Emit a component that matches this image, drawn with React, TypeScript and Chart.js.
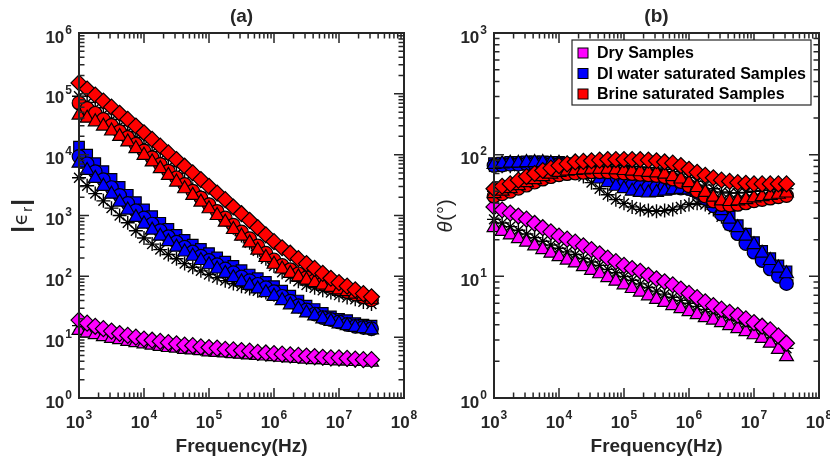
import React, { useEffect, useRef } from "react";
import { Chart, registerables } from "chart.js";
Chart.register(...registerables);

// ---------- data ----------
const freq = [
  1000, 1334, 1778, 2371, 3162, 4217, 5623, 7499,
  10000, 13340, 17780, 23710, 31620, 42170, 56230, 74990,
  100000, 133400, 177800, 237100, 316200, 421700, 562300, 749900,
  1000000, 1334000, 1778000, 2371000, 3162000, 4217000, 5623000, 7499000,
  10000000, 13340000, 17780000, 23710000, 31620000,
];

// panel (a): |eps_r|
const aRedDiamond = [151000, 120000, 95500, 75900, 60300, 47900, 38000, 29500, 22900, 17800, 13800, 10700, 8300, 6460, 5010, 3890, 3020, 2340, 1820, 1380, 1070, 832, 631, 479, 372, 295, 240, 195, 162, 135, 112, 93, 79, 69, 60, 52, 46];
const aRedCircle = [70800, 57500, 47900, 38000, 30200, 24000, 19100, 14800, 11500, 8910, 6920, 5370, 4170, 3240, 2510, 1950, 1510, 1170, 912, 692, 537, 417, 316, 240, 186, 151, 129, 110, 95, 85, 76, 68, 62, 56, 51, 46, 41];
const aRedTriangle = [44700, 39800, 34700, 29500, 24500, 20000, 16200, 12600, 9770, 7590, 5890, 4570, 3550, 2750, 2140, 1660, 1290, 1000, 776, 589, 457, 355, 269, 204, 158, 132, 112, 98, 87, 79, 72, 66, 60, 56, 51, 47, 42];
const aRedStar = [91200, 72400, 58900, 46800, 38000, 30200, 24000, 19100, 14500, 11200, 8510, 6460, 4900, 3630, 2690, 2040, 1510, 1120, 851, 631, 468, 355, 263, 195, 148, 117, 98, 83, 72, 65, 59, 54, 49, 45, 42, 38, 35];
const aBlueSquare = [13500, 10000, 7240, 5370, 3980, 2950, 2190, 1660, 1260, 977, 759, 603, 479, 398, 331, 282, 240, 204, 174, 148, 126, 107, 93, 81, 69, 58, 48, 40, 33, 29, 25, 22, 20, 19, 17, 16, 15.5];
const aBlueCircle = [9330, 7080, 5250, 3890, 2880, 2140, 1580, 1200, 912, 724, 562, 447, 363, 302, 251, 214, 182, 155, 132, 115, 98, 85, 74, 65, 56, 47, 39, 33, 28, 24, 21, 19.5, 17.8, 16.2, 15.1, 14.5, 13.8];
const aBlueTriangle = [7240, 5500, 4070, 3020, 2240, 1660, 1230, 933, 724, 575, 457, 372, 302, 251, 214, 182, 155, 132, 112, 95, 81, 71, 62, 54, 47, 40, 34, 29, 25, 22.4, 20, 18.2, 16.6, 15.5, 14.5, 13.8, 13.2];
const aBlueStar = [4170, 3090, 2290, 1740, 1320, 1000, 759, 562, 427, 339, 275, 229, 195, 162, 141, 123, 107, 95, 85, 76, 69, 63, 58, 54, 50, 44, 38, 32, 28, 24.5, 21.9, 19.5, 17.8, 16.2, 15.1, 14.1, 13.5];
const aMagDiamond = [19.1, 17.0, 15.1, 13.8, 12.6, 11.5, 10.7, 10.0, 9.33, 8.91, 8.51, 8.13, 7.76, 7.41, 7.24, 6.92, 6.76, 6.61, 6.31, 6.17, 6.03, 5.89, 5.62, 5.5, 5.37, 5.25, 5.13, 5.01, 4.9, 4.79, 4.68, 4.57, 4.57, 4.47, 4.37, 4.27, 4.27];
const aMagTriangle = [12.9, 11.7, 11.0, 10.2, 9.55, 9.12, 8.51, 8.13, 7.76, 7.41, 7.08, 6.76, 6.61, 6.31, 6.17, 6.03, 5.75, 5.62, 5.5, 5.37, 5.25, 5.13, 5.01, 4.9, 4.79, 4.68, 4.57, 4.47, 4.37, 4.27, 4.27, 4.17, 4.07, 4.07, 3.98, 3.98, 3.89];
const aMagStar = [15.5, 14.1, 12.9, 11.8, 11.0, 10.2, 9.5, 9.0, 8.5, 8.1, 7.8, 7.4, 7.2, 6.8, 6.7, 6.5, 6.2, 6.1, 5.9, 5.8, 5.6, 5.5, 5.3, 5.2, 5.1, 4.95, 4.85, 4.75, 4.6, 4.5, 4.45, 4.35, 4.3, 4.25, 4.15, 4.1, 4.05];

// panel (b): theta (deg)
const bMagDiamond = [37.2, 35.1, 33.1, 31.3, 29.5, 27.2, 25.1, 23.2, 21.4, 20.2, 19.1, 17.8, 16.6, 15.3, 14.1, 13.2, 12.3, 11.6, 11.0, 10.2, 9.55, 9.02, 8.51, 7.85, 7.24, 6.68, 6.17, 5.75, 5.37, 5.07, 4.79, 4.47, 4.17, 3.89, 3.63, 3.24, 2.82];
const bMagTriangle = [25.1, 23.4, 21.9, 20.4, 19.1, 17.8, 16.6, 15.5, 14.5, 13.6, 12.9, 12.0, 11.2, 10.5, 9.77, 9.12, 8.51, 7.94, 7.41, 6.92, 6.46, 6.1, 5.75, 5.43, 5.13, 4.84, 4.57, 4.37, 4.17, 3.94, 3.72, 3.51, 3.31, 3.09, 2.82, 2.51, 2.19];
const bMagStar = [29.4, 27.4, 25.6, 23.9, 22.3, 20.8, 19.4, 18.1, 17.0, 15.9, 15.1, 14.0, 13.1, 12.3, 11.4, 10.7, 9.96, 9.29, 8.67, 8.1, 7.56, 7.14, 6.73, 6.35, 6.0, 5.66, 5.35, 5.11, 4.88, 4.61, 4.35, 4.11, 3.87, 3.62, 3.3, 2.94, 2.56];
const bBlueSquare = [85.1, 86.1, 87.1, 87.1, 88.1, 88.1, 88.1, 87.1, 87.1, 85.1, 83.2, 79.4, 75.9, 70.8, 66.1, 61.7, 58.9, 56.9, 55.6, 55.0, 54.3, 54.3, 54.3, 54.3, 53.7, 50.1, 45.7, 40.7, 36.3, 30.9, 26.3, 22.4, 19.1, 16.2, 14.1, 12.3, 11.0];
const bBlueTriangle = [83.2, 84.1, 85.1, 85.1, 86.1, 86.1, 86.1, 85.1, 85.1, 83.2, 79.4, 74.1, 69.2, 63.1, 58.9, 55.0, 52.5, 50.1, 49.0, 48.4, 49.0, 50.1, 51.3, 51.9, 51.3, 49.0, 44.7, 39.8, 34.7, 29.5, 25.1, 21.4, 18.2, 15.5, 13.5, 11.7, 10.5];
const bBlueCircle = [81.3, 82.2, 83.2, 83.2, 84.1, 84.1, 84.1, 83.2, 83.2, 81.3, 79.4, 75.9, 72.4, 67.6, 63.1, 60.3, 57.5, 55.6, 54.3, 53.7, 53.7, 53.7, 53.7, 53.1, 52.5, 49.0, 43.7, 38.0, 32.4, 26.9, 22.4, 18.6, 15.8, 13.5, 11.5, 10.0, 8.71];
const bBlueStar = [79.4, 80.4, 80.4, 81.3, 81.3, 81.3, 81.3, 81.3, 81.3, 79.4, 74.1, 66.1, 58.9, 52.5, 46.8, 42.7, 39.8, 37.2, 35.5, 34.7, 34.3, 34.7, 35.5, 37.2, 38.9, 39.8, 38.9, 35.5, 30.9, 26.3, 22.4, 19.1, 16.2, 13.8, 12.0, 10.5, 9.33];
const bRedDiamond = [52.5, 55.0, 57.5, 61.7, 66.1, 70.0, 74.1, 77.6, 81.3, 84.1, 87.1, 88.1, 89.1, 90.2, 91.2, 91.2, 91.2, 91.2, 91.2, 90.2, 89.1, 87.1, 85.1, 81.3, 75.9, 71.6, 67.6, 64.6, 61.7, 60.3, 58.9, 58.2, 57.5, 57.5, 57.5, 57.5, 57.5];
const bRedTriangle = [47.9, 50.1, 52.5, 55.6, 58.9, 62.4, 66.1, 69.2, 71.6, 73.3, 74.1, 75.0, 75.9, 75.9, 75.9, 75.0, 74.1, 73.3, 72.4, 71.6, 70.8, 69.2, 66.1, 63.1, 58.9, 53.7, 49.0, 44.7, 41.7, 41.2, 41.7, 42.7, 44.2, 45.2, 46.2, 47.3, 48.4];
const bRedCircle = [45.6, 47.7, 50.0, 52.9, 56.1, 59.4, 62.9, 65.9, 68.2, 69.8, 70.6, 71.4, 72.3, 72.3, 72.3, 71.4, 70.6, 69.8, 68.9, 68.2, 67.4, 65.9, 62.9, 60.1, 55.5, 50.3, 45.6, 41.6, 38.9, 38.5, 39.0, 40.1, 41.7, 42.8, 43.9, 45.0, 46.1];
const bRedStar = [50.1, 52.5, 55.0, 58.5, 62.4, 66.1, 70.0, 73.3, 76.2, 78.5, 80.4, 81.3, 82.2, 82.2, 83.2, 82.2, 81.3, 80.4, 79.4, 78.5, 77.6, 75.9, 72.4, 69.2, 65.0, 60.3, 56.2, 52.5, 49.4, 48.4, 48.4, 49.0, 50.1, 50.7, 51.3, 51.9, 52.5];

const legendLabels = ["Dry Samples", "DI water saturated Samples", "Brine saturated Samples"];

// ---------- style ----------
const MAG = "#FF00FF";
const BLU = "#0000FF";
const RED = "#FF0000";
const INK = "#262626";
const FONT = '"Liberation Sans", Arial, Helvetica, sans-serif';

function series(values: number[], style: string, color: string, radius: number) {
  const star = style === "star";
  return {
    data: freq.map((f, i) => ({ x: f, y: values[i] })),
    pointStyle: style,
    pointRadius: radius,
    pointBackgroundColor: star ? "#000" : color,
    pointBorderColor: "#000",
    pointBorderWidth: star ? 1.4 : 1.2,
    showLine: false,
    clip: false as any,
  };
}

function groupSets(d: number[] | null, t: number[], c: number[] | null, sq: number[] | null, s: number[], color: string) {
  const out: any[] = [];
  if (d) out.push(series(d, "rectRot", color, 8));
  out.push(series(t, "triangle", color, 8));
  if (c) out.push(series(c, "circle", color, 6.8));
  if (sq) out.push(series(sq, "rect", color, 7.5));
  out.push(series(s, "star", color, 7));
  return out;
}

function powLabel(ctx: CanvasRenderingContext2D, e: number, x: number, y: number, align: "center" | "right") {
  ctx.font = `bold 17px ${FONT}`;
  const w1 = ctx.measureText("10").width;
  ctx.font = `bold 12px ${FONT}`;
  const w2 = ctx.measureText(String(e)).width;
  const total = w1 + 1 + w2;
  const x0 = align === "center" ? x - total / 2 : x - total;
  ctx.textAlign = "left";
  ctx.textBaseline = "alphabetic";
  ctx.font = `bold 17px ${FONT}`;
  ctx.fillText("10", x0, y);
  ctx.font = `bold 12px ${FONT}`;
  ctx.fillText(String(e), x0 + w1 + 1, y - 9);
}

function makeFrame(cfg: { title: string; yMaxExp: number; yTitle: "eps" | "theta"; legend: boolean }) {
  return {
    id: "frame",
    afterDatasetsDraw(chart: any) {
      const { ctx, chartArea: a } = chart;
      const xs = chart.scales.x;
      const ys = chart.scales.y;
      ctx.save();
      ctx.strokeStyle = INK;
      ctx.fillStyle = INK;
      ctx.lineWidth = 1.5;
      const MAJ = 10;
      const MIN = 5.5;
      ctx.beginPath();
      for (let e = 3; e <= 8; e++) {
        for (let m = 1; m <= 9; m++) {
          if (e === 8 && m > 1) break;
          const px = xs.getPixelForValue(m * Math.pow(10, e));
          if (px <= a.left + 1 || px >= a.right - 1) continue;
          const len = m === 1 ? MAJ : MIN;
          ctx.moveTo(px, a.bottom);
          ctx.lineTo(px, a.bottom - len);
          ctx.moveTo(px, a.top);
          ctx.lineTo(px, a.top + len);
        }
      }
      for (let e = 0; e <= cfg.yMaxExp; e++) {
        for (let m = 1; m <= 9; m++) {
          if (e === cfg.yMaxExp && m > 1) break;
          const py = ys.getPixelForValue(m * Math.pow(10, e));
          if (py >= a.bottom - 1 || py <= a.top + 1) continue;
          const len = m === 1 ? MAJ : MIN;
          ctx.moveTo(a.left, py);
          ctx.lineTo(a.left + len, py);
          ctx.moveTo(a.right, py);
          ctx.lineTo(a.right - len, py);
        }
      }
      ctx.stroke();
      ctx.lineWidth = 2;
      ctx.strokeRect(a.left, a.top, a.right - a.left, a.bottom - a.top);

      // tick labels
      for (let e = 3; e <= 8; e++) {
        powLabel(ctx, e, xs.getPixelForValue(Math.pow(10, e)), a.bottom + 30, "center");
      }
      for (let e = 0; e <= cfg.yMaxExp; e++) {
        powLabel(ctx, e, a.left - 7, ys.getPixelForValue(Math.pow(10, e)) + 9.5, "right");
      }

      const cx = (a.left + a.right) / 2;
      const cy = (a.top + a.bottom) / 2;
      ctx.textAlign = "center";
      ctx.textBaseline = "middle";
      ctx.font = `bold 19px ${FONT}`;
      ctx.fillText(cfg.title, cx, 17);
      ctx.fillText("Frequency(Hz)", cx, 447);

      // y title
      ctx.save();
      if (cfg.yTitle === "eps") {
        ctx.translate(22, cy);
        ctx.rotate(-Math.PI / 2);
        const parts = [
          { t: "|", f: `bold 24px ${FONT}`, dy: 0 },
          { t: "\u03F5", f: `20px "DejaVu Sans", ${FONT}`, dy: 0 },
          { t: "r", f: `15px ${FONT}`, dy: 6 },
          { t: "|", f: `bold 24px ${FONT}`, dy: 0 },
        ];
        let total = 0;
        const ws = parts.map((p) => {
          ctx.font = p.f;
          const w = ctx.measureText(p.t).width + 1;
          total += w;
          return w;
        });
        let x = -total / 2;
        ctx.textAlign = "left";
        ctx.textBaseline = "middle";
        parts.forEach((p, i) => {
          ctx.font = p.f;
          ctx.fillText(p.t, x, p.dy);
          x += ws[i];
        });
      } else {
        ctx.translate(31, cy);
        ctx.rotate(-Math.PI / 2);
        const parts = [
          { t: "\u03B8", f: `italic 20px ${FONT}` },
          { t: "(\u00B0)", f: `20px ${FONT}` },
        ];
        let total = 0;
        const ws = parts.map((p) => {
          ctx.font = p.f;
          const w = ctx.measureText(p.t).width + 1;
          total += w;
          return w;
        });
        let x = -total / 2;
        ctx.textAlign = "left";
        ctx.textBaseline = "middle";
        parts.forEach((p, i) => {
          ctx.font = p.f;
          ctx.fillText(p.t, x, 0);
          x += ws[i];
        });
      }
      ctx.restore();

      if (cfg.legend) {
        const bx = 157, by = 40, bw = 239, bh = 65;
        ctx.fillStyle = "#fff";
        ctx.fillRect(bx, by, bw, bh);
        ctx.strokeStyle = INK;
        ctx.lineWidth = 1.2;
        ctx.strokeRect(bx, by, bw, bh);
        const cols = [MAG, BLU, RED];
        const rows = [53, 73.5, 94];
        rows.forEach((ry, i) => {
          ctx.fillStyle = cols[i];
          ctx.fillRect(163, ry - 5, 10, 10);
          ctx.strokeStyle = "#000";
          ctx.lineWidth = 1;
          ctx.strokeRect(163, ry - 5, 10, 10);
          ctx.fillStyle = "#000";
          ctx.font = `bold 16px ${FONT}`;
          ctx.textAlign = "left";
          ctx.textBaseline = "middle";
          ctx.fillText(legendLabels[i], 182, ry + 1);
        });
      }
      ctx.restore();
    },
  };
}

function makeConfig(datasets: any[], yMax: number, frame: any, padRight: number) {
  return {
    type: "scatter" as const,
    data: { datasets },
    options: {
      responsive: false,
      animation: false as const,
      events: [] as any[],
      layout: { padding: { left: 79, right: padRight, top: 33, bottom: 62 } },
      plugins: { legend: { display: false }, title: { display: false }, tooltip: { enabled: false } },
      scales: {
        x: { type: "logarithmic" as const, min: 1e3, max: 1e8, display: false },
        y: { type: "logarithmic" as const, min: 1, max: yMax, display: false },
      },
    },
    plugins: [frame],
  };
}

export default function App() {
  const refA = useRef<HTMLCanvasElement>(null);
  const refB = useRef<HTMLCanvasElement>(null);

  useEffect(() => {
    const setsA = [
      ...groupSets(aRedDiamond, aRedTriangle, aRedCircle, null, aRedStar, RED),
      ...groupSets(null, aBlueTriangle, aBlueCircle, aBlueSquare, aBlueStar, BLU),
      ...groupSets(aMagDiamond, aMagTriangle, null, null, aMagStar, MAG),
    ];
    const setsB = [
      ...groupSets(bRedDiamond, bRedTriangle, bRedCircle, null, bRedStar, RED),
      ...groupSets(null, bBlueTriangle, bBlueCircle, bBlueSquare, bBlueStar, BLU),
      ...groupSets(bMagDiamond, bMagTriangle, null, null, bMagStar, MAG),
    ];
    const cA = new Chart(refA.current as HTMLCanvasElement, makeConfig(setsA, 1e6, makeFrame({ title: "(a)", yMaxExp: 6, yTitle: "eps", legend: false }), 26) as any);
    const cB = new Chart(refB.current as HTMLCanvasElement, makeConfig(setsB, 1e3, makeFrame({ title: "(b)", yMaxExp: 3, yTitle: "theta", legend: true }), 11) as any);
    return () => {
      cA.destroy();
      cB.destroy();
    };
  }, []);

  return (
    <div style={{ position: "absolute", left: 0, top: 0, width: 830, height: 460, background: "#fff" }}>
      <canvas ref={refA} width={430} height={460} style={{ position: "absolute", left: 0, top: 0, display: "block", width: 430, height: 460 }} />
      <canvas ref={refB} width={415} height={460} style={{ position: "absolute", left: 415, top: 0, display: "block", width: 415, height: 460 }} />
    </div>
  );
}
